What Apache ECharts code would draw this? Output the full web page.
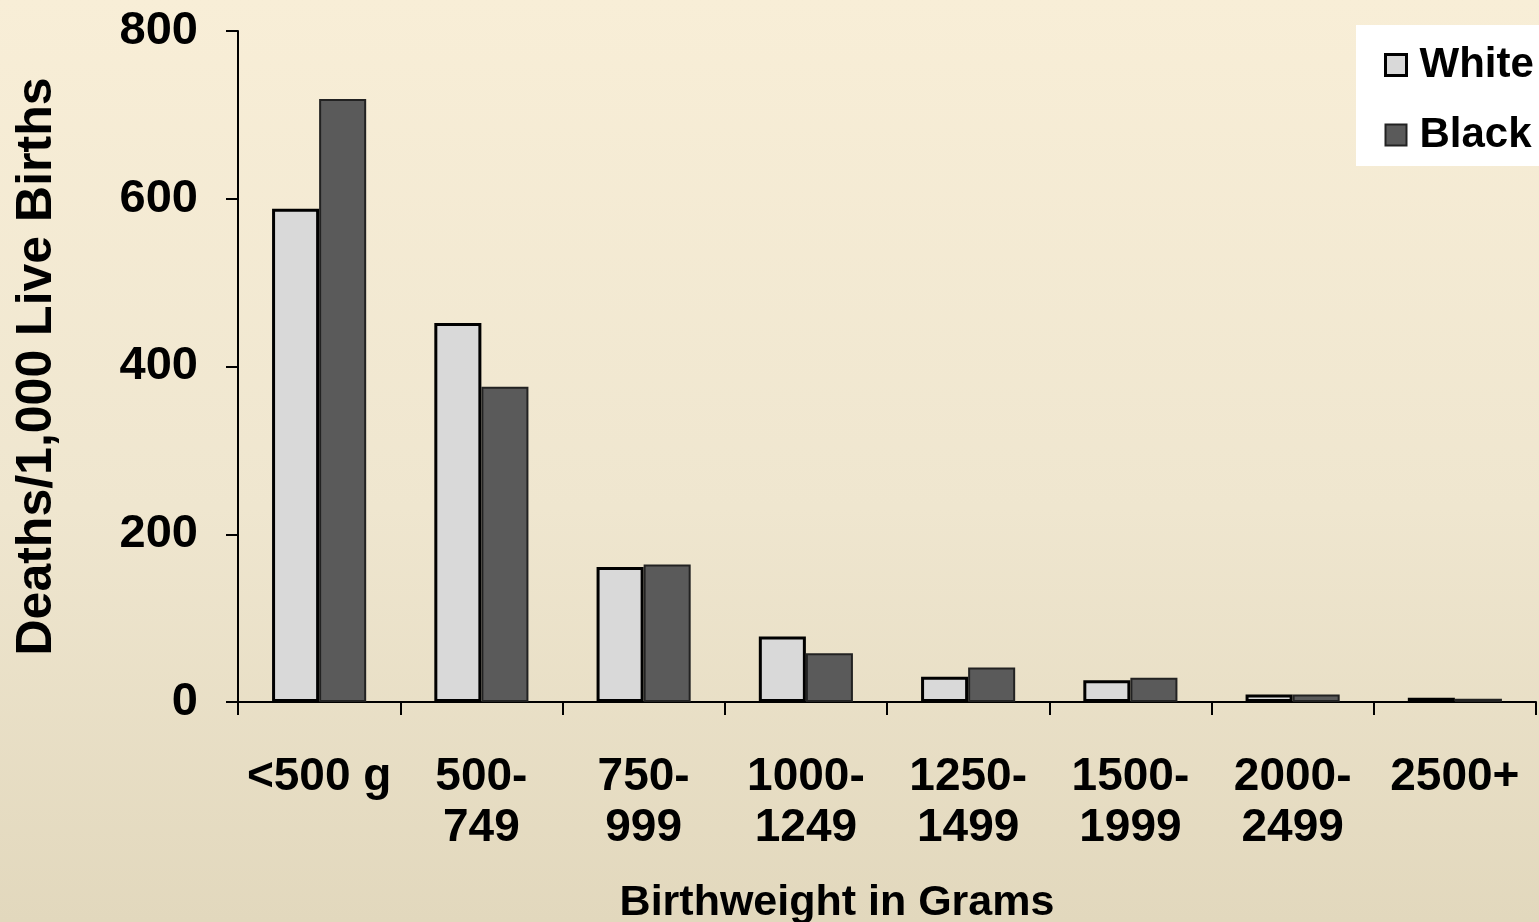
<!DOCTYPE html>
<html>
<head>
<meta charset="utf-8">
<script src="https://cdn.jsdelivr.net/npm/echarts@6/dist/echarts.min.js"></script>
<style>
html,body{margin:0;padding:0;}
#c{width:1539px;height:922px;background:linear-gradient(to bottom,#f8eed7 0%,#efe6cf 55%,#e2d8bd 100%);}
</style>
</head>
<body>
<div id="c"></div>
<script>
const categories = ['<500 g', '500-\n749', '750-\n999', '1000-\n1249', '1250-\n1499', '1500-\n1999', '2000-\n2499', '2500+'];
const whiteValues = [588, 452, 161, 78, 30, 26, 9, 5];
const blackValues = [719, 376, 164, 58, 41, 29, 9, 4];
const yTicks = { min: 0, max: 800, interval: 200 };

const FONT = '"Liberation Sans", Arial, sans-serif';
const chart = echarts.init(document.getElementById('c'), null, { renderer: 'canvas' });
chart.setOption({
  backgroundColor: 'transparent',
  animation: false,
  grid: { left: 238, right: 3, top: 31, bottom: 220, containLabel: false, outerBoundsMode: 'none' },
  legend: {
    left: 1356, top: 25,
    orient: 'vertical',
    backgroundColor: '#ffffff',
    padding: [19, 40, 10, 28],
    itemWidth: 21, itemHeight: 21, itemGap: 28,
    icon: 'rect',
    textStyle: { fontFamily: FONT, fontWeight: 'bold', fontSize: 42, color: '#000', padding: [0, 0, 0, 8] },
    data: [
      { name: 'White', itemStyle: { color: '#d9d9d9', borderColor: '#000', borderWidth: 3 } },
      { name: 'Black', itemStyle: { color: '#5a5a5a', borderColor: '#222', borderWidth: 2 } }
    ]
  },
  xAxis: {
    type: 'category',
    data: categories,
    name: 'Birthweight in Grams',
    nameLocation: 'middle',
    nameGap: 180,
    nameTextStyle: { fontFamily: FONT, fontWeight: 'bold', fontSize: 43, color: '#000', padding: [0, 100, 0, 0] },
    axisLine: { lineStyle: { color: '#000', width: 2 } },
    axisTick: { show: true, length: 13, lineStyle: { color: '#000', width: 2 } },
    axisLabel: { fontFamily: FONT, fontWeight: 'bold', fontSize: 46, color: '#000', margin: 50, lineHeight: 51, interval: 0 }
  },
  yAxis: {
    type: 'value',
    min: yTicks.min, max: yTicks.max, interval: yTicks.interval,
    name: 'Deaths/1,000 Live Births',
    nameLocation: 'middle',
    nameGap: 176,
    nameTextStyle: { fontFamily: FONT, fontWeight: 'bold', fontSize: 50, color: '#000' },
    splitLine: { show: false },
    axisLine: { show: true, lineStyle: { color: '#000', width: 2 } },
    axisTick: { show: true, length: 12, lineStyle: { color: '#000', width: 2 } },
    axisLabel: { fontFamily: FONT, fontWeight: 'bold', fontSize: 47, color: '#000', margin: 40 }
  },
  series: [
    {
      name: 'White', type: 'bar', data: whiteValues,
      barGap: '0%', barCategoryGap: '42%',
      itemStyle: { color: '#d9d9d9', borderColor: '#000', borderWidth: 3 }
    },
    {
      name: 'Black', type: 'bar', data: blackValues,
      barGap: '0%', barCategoryGap: '42%',
      itemStyle: { color: '#5a5a5a', borderColor: '#222', borderWidth: 2 }
    }
  ]
});
</script>
</body>
</html>
